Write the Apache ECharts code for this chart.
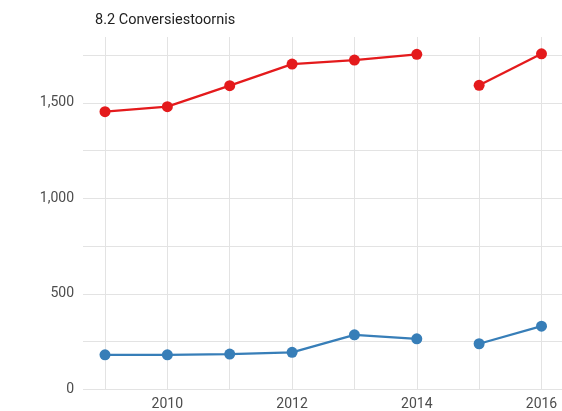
<!DOCTYPE html>
<html>
<head>
<meta charset="utf-8">
<script src="https://cdn.jsdelivr.net/npm/echarts@6/dist/echarts.min.js"></script>
<style>
html,body{margin:0;padding:0;background:#fff;}
#chart{width:562px;height:411px;}
</style>
</head>
<body>
<div id="chart"></div>
<script>
// Data
var years = [2009, 2010, 2011, 2012, 2013, 2014, 2015, 2016];
var periods = [1, 1, 1, 1, 1, 1, 2, 2];
var redValues = [1453, 1479, 1589, 1702, 1723, 1753, 1591, 1756];
var blueValues = [179, 179, 183, 192, 284, 263, 237, 329];
var xTickLabels = [2010, 2012, 2014, 2016];
var yTickLabels = [0, 500, 1000, 1500];
var titleText = '8.2 Conversiestoornis';

var FONT = 'Roboto, "Noto Sans", sans-serif';
var GRID = '#e3e3e3';
var Y_MAX = 1844;

function segments(values, color, name) {
  var out = [];
  var uniq = [];
  periods.forEach(function (p) { if (uniq.indexOf(p) < 0) uniq.push(p); });
  uniq.forEach(function (p) {
    var d = [];
    years.forEach(function (y, i) { if (periods[i] === p) d.push([y, values[i]]); });
    out.push({
      name: name,
      type: 'line',
      xAxisIndex: 1,
      yAxisIndex: 1,
      data: d,
      symbol: 'circle',
      symbolSize: 11,
      lineStyle: { color: color, width: 2.3 },
      itemStyle: { color: color },
      animation: false,
      z: 3
    });
  });
  return out;
}

var yColors = [];
for (var j = 0; j < 9; j++) yColors.push(j === 8 ? 'rgba(0,0,0,0)' : GRID);

var chart = echarts.init(document.getElementById('chart'), null, { renderer: 'canvas' });
chart.setOption({
  animation: false,
  backgroundColor: '#fff',
  title: {
    text: titleText,
    left: 90,
    top: 8,
    textStyle: { fontFamily: FONT, fontSize: 14.5, fontWeight: 'normal', color: '#222' }
  },
  grid: [
    { left: 83, top: 37, width: 480, bottom: 21.5, containLabel: false },
    { left: 105, top: 37, width: 436.5, bottom: 21.5, containLabel: false }
  ],
  xAxis: [
    {
      gridIndex: 0, type: 'value', min: 0, max: 1, show: false
    },
    {
      gridIndex: 1,
      type: 'value',
      min: 2009,
      max: 2016,
      interval: 1,
      axisLine: { show: false },
      axisTick: { show: false },
      axisLabel: {
        margin: 8,
        fontFamily: FONT,
        fontSize: 14,
        color: '#4d4d4d',
        formatter: function (v) { return xTickLabels.indexOf(v) >= 0 ? String(v) : ''; }
      },
      splitLine: { show: true, lineStyle: { color: GRID, width: 1 } }
    }
  ],
  yAxis: [
    {
      gridIndex: 0,
      type: 'value',
      min: 0,
      max: Y_MAX,
      interval: 250,
      axisLine: { show: false },
      axisTick: { show: false },
      axisLabel: {
        showMaxLabel: false,
        margin: 9,
        fontFamily: FONT,
        fontSize: 14,
        color: '#4d4d4d',
        formatter: function (v) { return yTickLabels.indexOf(v) >= 0 ? v.toLocaleString('en-US') : ''; }
      },
      splitLine: { show: true, lineStyle: { color: yColors, width: 1 } }
    },
    {
      gridIndex: 1, type: 'value', min: 0, max: Y_MAX, show: false, splitLine: { show: false }
    }
  ],
  series: segments(redValues, '#E41A1C', 'red').concat(segments(blueValues, '#377EB8', 'blue'))
});
</script>
</body>
</html>
